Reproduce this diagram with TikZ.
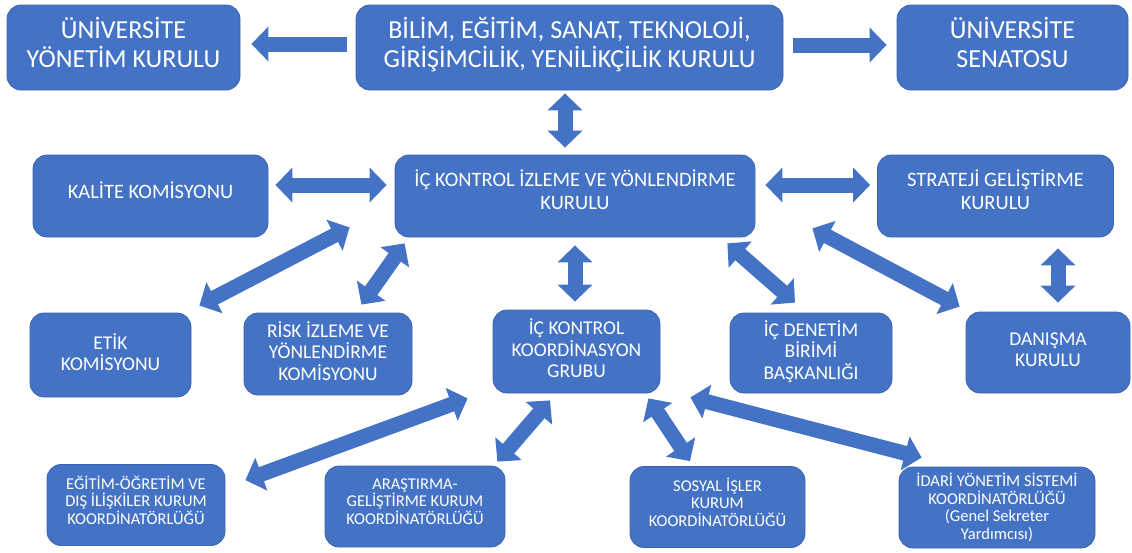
\documentclass[tikz,border=0pt]{standalone}
\usepackage{fontspec}
\setmainfont{Carlito}
\usepackage{tikz}
\usetikzlibrary{arrows.meta,calc}

\definecolor{boxblue}{RGB}{68,114,196}
\definecolor{boxedge}{RGB}{60,100,175}

\begin{document}
\begin{tikzpicture}[x=1pt,y=-1pt,
    box/.style={draw=boxedge,line width=0.8pt,fill=boxblue,rounded corners=14pt,text=white,align=center,inner sep=3pt},
    bigbox/.style={box,font=\fontsize{26}{29}\selectfont,text depth=10pt},
    midbox/.style={box,font=\fontsize{20.5}{23}\selectfont,text depth=12pt},
    smallbox/.style={box,font=\fontsize{19.5}{21.5}\selectfont,text depth=6pt},
    tinybox/.style={box,font=\fontsize{16.5}{17.5}\selectfont},
    link/.style={boxblue,line width=15pt,->},
    twolink/.style={boxblue,line width=15pt,<->},
    >={Triangle[length=17pt,width=34pt]}]
    \useasboundingbox (0,0) rectangle (1132,552);

    \node[bigbox,minimum width=233pt,minimum height=85pt] (yonetim) at (123.5,47.5) {ÜNİVERSİTE\\YÖNETİM KURULU};
    \node[bigbox,minimum width=427pt,minimum height=85pt] (bilim) at (569.5,47.5) {BİLİM, EĞİTİM, SANAT, TEKNOLOJİ,\\GİRİŞİMCİLİK, YENİLİKÇİLİK KURULU};
    \node[bigbox,minimum width=231pt,minimum height=85pt] (senato) at (1012.5,47.5) {ÜNİVERSİTE\\SENATOSU};

    \node[midbox,minimum width=235pt,minimum height=82pt] (kalite) at (150.5,196) {KALİTE KOMİSYONU};
    \node[midbox,minimum width=360pt,minimum height=82pt] (izleme) at (575,196) {İÇ KONTROL İZLEME VE YÖNLENDİRME\\KURULU};
    \node[midbox,minimum width=236pt,minimum height=82pt] (strateji) at (995.5,196) {STRATEJİ GELİŞTİRME\\KURULU};

    \node[smallbox,minimum width=161pt,minimum height=84pt] (etik) at (110.5,355) {ETİK\\KOMİSYONU};
    \node[smallbox,minimum width=168pt,minimum height=82pt] (risk) at (328,354) {RİSK İZLEME VE\\YÖNLENDİRME\\KOMİSYONU};
    \node[smallbox,minimum width=167pt,minimum height=83pt] (koord) at (576.5,351.5) {İÇ KONTROL\\KOORDİNASYON\\GRUBU};
    \node[smallbox,minimum width=162pt,minimum height=80pt] (denetim) at (811,353) {İÇ DENETİM\\BİRİMİ\\BAŞKANLIĞI};
    \node[smallbox,minimum width=164pt,minimum height=81pt] (danisma) at (1048,352.5) {DANIŞMA\\KURULU};

    \node[tinybox,text depth=10pt,minimum width=178pt,minimum height=81pt] (egitim) at (136,505) {EĞİTİM-ÖĞRETİM VE\\DIŞ İLİŞKİLER KURUM\\KOORDİNATÖRLÜĞÜ};
    \node[tinybox,text depth=10pt,minimum width=180pt,minimum height=81pt] (arastirma) at (415,506.5) {ARAŞTIRMA-\\GELİŞTİRME KURUM\\KOORDİNATÖRLÜĞÜ};
    \node[tinybox,text depth=10pt,minimum width=175pt,minimum height=81pt] (sosyal) at (717.5,507) {SOSYAL İŞLER\\KURUM\\KOORDİNATÖRLÜĞÜ};
    \node[tinybox,minimum width=196pt,minimum height=81pt] (idari) at (997,507.5) {İDARİ YÖNETİM SİSTEMİ\\KOORDİNATÖRLÜĞÜ\\(Genel Sekreter\\Yardımcısı)};

    \draw[link] ($(bilim.west)+(-9,-3.5)$) -- ($(yonetim.east)+(11,-3.5)$);
    \draw[link] ($(bilim.east)+(10,-2.5)$) -- ($(senato.west)+(-10,-2.5)$);
    \draw[twolink] ($(bilim.south)+(-4.5,3)$) -- ($(izleme.north)+(-10,-7)$);
    \draw[twolink] ($(kalite.east)+(7,-11)$) -- ($(izleme.west)+(-8,-11)$);
    \draw[twolink] ($(izleme.east)+(10,-11)$) -- ($(strateji.west)+(-7,-11)$);

    \draw[twolink] ($(izleme.south west)+(-45,-10)$) -- ($(etik.north east)+(8,-7)$);
    \draw[twolink] ($(izleme.south west)+(10,6)$) -- ($(risk.north east)+(-51,-8)$);
    \draw[twolink] ($(izleme.south)+(0,8)$) -- ($(koord.north)+(-1.5,-8)$);
    \draw[twolink] ($(izleme.south east)+(-28,6)$) -- ($(denetim.north)+(-16,-10)$);
    \draw[twolink] ($(izleme.south east)+(57,-9)$) -- ($(danisma.north west)+(-6,-5)$);
    \draw[twolink] ($(strateji.south)+(62.5,11)$) -- ($(danisma.north)+(10,-9)$);

    \draw[twolink] ($(koord.south west)+(-25,5)$) -- ($(egitim.north east)+(20,16)$);
    \draw[twolink] ($(koord.south)+(-26.5,7)$) -- ($(arastirma.north east)+(-8,-4)$);
    \draw[twolink] ($(koord.south east)+(-12,5)$) -- ($(sosyal.north)+(-27.5,-5)$);
    \draw[twolink] ($(koord.south east)+(30,4)$) -- ($(idari.north west)+(23,-9)$);
\end{tikzpicture}
\end{document}
